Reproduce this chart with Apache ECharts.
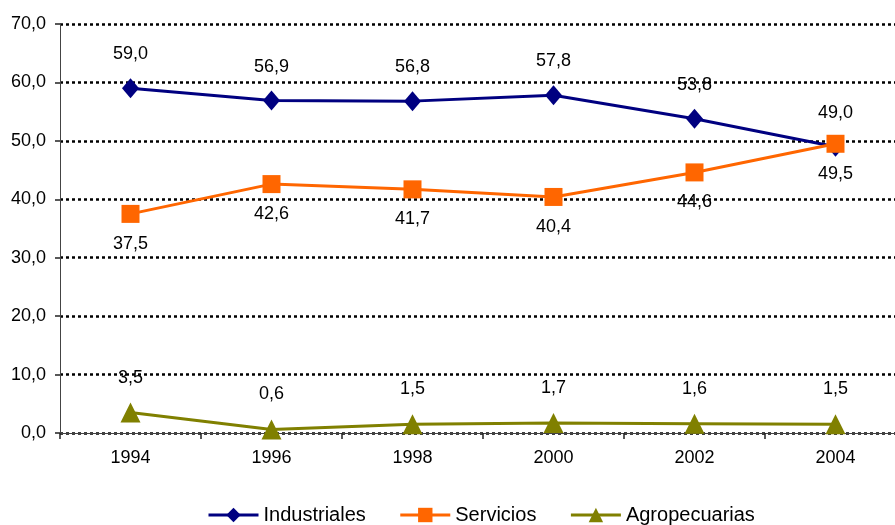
<!DOCTYPE html>
<html>
<head>
<meta charset="utf-8">
<script src="https://cdn.jsdelivr.net/npm/echarts@6/dist/echarts.min.js"></script>
<style>html,body{margin:0;padding:0;background:#fff;overflow:hidden}#c{width:906px;height:525px}</style>
</head>
<body>
<div id="c"></div>
<script>
const years = ['1994','1996','1998','2000','2002','2004'];
const industriales = [59.0, 56.9, 56.8, 57.8, 53.8, 49.0];
const servicios = [37.5, 42.6, 41.7, 40.4, 44.6, 49.5];
const agropecuarias = [3.5, 0.6, 1.5, 1.7, 1.6, 1.5];
const yTicks = {min: 0, max: 70, interval: 10};

const fmt = v => Number(v).toFixed(1).replace('.', ',');
const font = '"Liberation Sans", Arial, sans-serif';

const chart = echarts.init(document.getElementById('c'));
function mk(name, data, color, symbol, size, pos, dist) {
  return {
    name, type: 'line', data, symbol, symbolSize: size,
    lineStyle: {color, width: 3}, itemStyle: {color},
    label: {show: true, position: pos, distance: dist, formatter: p => fmt(p.value),
      color: '#000', fontSize: 18, fontFamily: font},
    animation: false
  };
}
chart.setOption({
  animation: false,
  grid: {left: 60, right: 0, top: 24, bottom: 92},
  xAxis: {
    type: 'category', data: years, boundaryGap: true,
    axisLine: {lineStyle: {color: '#444', width: 1}},
    axisTick: {show: true, length: 6, lineStyle: {color: '#222', width: 1.5}},
    axisLabel: {color: '#000', fontSize: 18, fontFamily: font, margin: 16}
  },
  yAxis: {
    type: 'value', min: yTicks.min, max: yTicks.max, interval: yTicks.interval,
    axisLine: {show: true, lineStyle: {color: '#444', width: 1}},
    axisTick: {show: true, length: 5, lineStyle: {color: '#222', width: 1.5}},
    axisLabel: {color: '#000', fontSize: 18, fontFamily: font, margin: 14, formatter: v => fmt(v)},
    splitLine: {show: true, lineStyle: {color: '#000', width: 2.5, type: [3, 3]}}
  },
  legend: {
    left: 202, top: 500, itemWidth: 50, itemHeight: 18, itemGap: 33,
    lineStyle: {width: 3},
    textStyle: {color: '#000', fontSize: 20, fontFamily: font},
    data: ['Industriales', 'Servicios', 'Agropecuarias']
  },
  series: [
    mk('Industriales', industriales, '#000080', 'diamond', [17, 20], 'top', 15),
    mk('Servicios', servicios, '#FF6600', 'rect', 18, 'bottom', 12),
    mk('Agropecuarias', agropecuarias, '#808000', 'triangle', 20, 'top', 16)
  ]
});
</script>
</body>
</html>
